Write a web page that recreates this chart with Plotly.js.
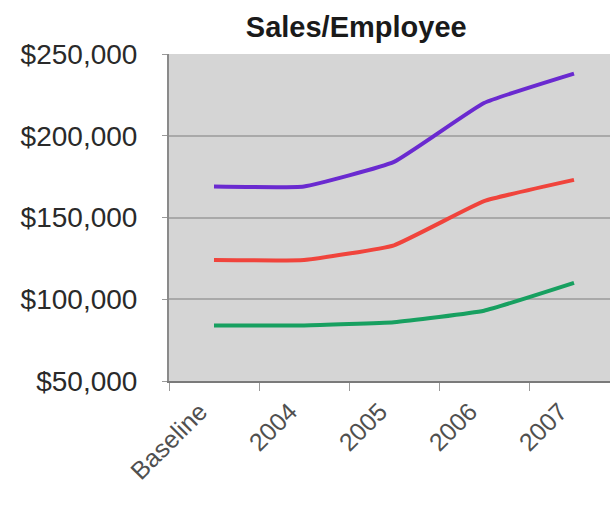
<!DOCTYPE html>
<html>
<head>
<meta charset="utf-8">
<script src="https://cdn.plot.ly/plotly-3.0.1.min.js"></script>
<style>html,body{margin:0;padding:0;background:#fff;}#chart{width:610px;height:520px;}</style>
</head>
<body>
<div id="chart"></div>
<script>
var categories = ["Baseline", "2004", "2005", "2006", "2007"];
var purpleSeries = [169000, 169000, 184000, 220000, 238000];
var redSeries = [124000, 124000, 133000, 160000, 173000];
var greenSeries = [84000, 84000, 86000, 93000, 110000];
var yTickValues = [50000, 100000, 150000, 200000, 250000];
var yTickLabels = ["$50,000", "$100,000", "$150,000", "$200,000", "$250,000"];
var chartTitle = "Sales/Employee";

function mk(y, color) {
  return {
    x: categories, y: y, type: "scatter", mode: "lines",
    line: {color: color, width: 4, shape: "spline", smoothing: 0.35},
    hoverinfo: "skip", showlegend: false
  };
}

var data = [
  mk(purpleSeries, "#6a2ad0"),
  mk(redSeries, "#f0443c"),
  mk(greenSeries, "#17a060")
];

var layout = {
  width: 610, height: 520,
  margin: {l: 169, r: 0, t: 54, b: 139, pad: 0},
  paper_bgcolor: "#ffffff",
  plot_bgcolor: "#d5d5d5",
  title: {
    text: "<b>" + chartTitle + "</b>",
    font: {family: "Liberation Sans, Arial, sans-serif", size: 29, color: "#1a1a1a"},
    xref: "container", yref: "container", x: 0.584, y: 0.948,
    xanchor: "center", yanchor: "middle"
  },
  xaxis: {
    type: "category",
    range: [-0.5, 4.4],
    tickson: "boundaries",
    ticks: "outside", ticklen: 8, tickcolor: "#9a9a9a", tickwidth: 1,
    showline: true, linecolor: "#7a7a7a", linewidth: 2,
    showgrid: false, zeroline: false,
    tickangle: -45,
    ticklabelstandoff: 4,
    ticklabelshift: -14,
    tickfont: {family: "Liberation Sans, Arial, sans-serif", size: 25, color: "#505050"},
    fixedrange: true
  },
  yaxis: {
    range: [50000, 250000],
    tickmode: "array", tickvals: yTickValues, ticktext: yTickLabels,
    ticks: "outside", ticklen: 5, tickcolor: "#9a9a9a",
    ticklabelstandoff: 19,
    showline: true, linecolor: "#8a8a8a", linewidth: 2,
    showgrid: true, gridcolor: "#a9a9a9", gridwidth: 2,
    zeroline: false,
    tickfont: {family: "Liberation Sans, Arial, sans-serif", size: 28, color: "#2a2a2a"},
    fixedrange: true
  }
};

Plotly.newPlot("chart", data, layout, {displayModeBar: false, staticPlot: true});
</script>
</body>
</html>
